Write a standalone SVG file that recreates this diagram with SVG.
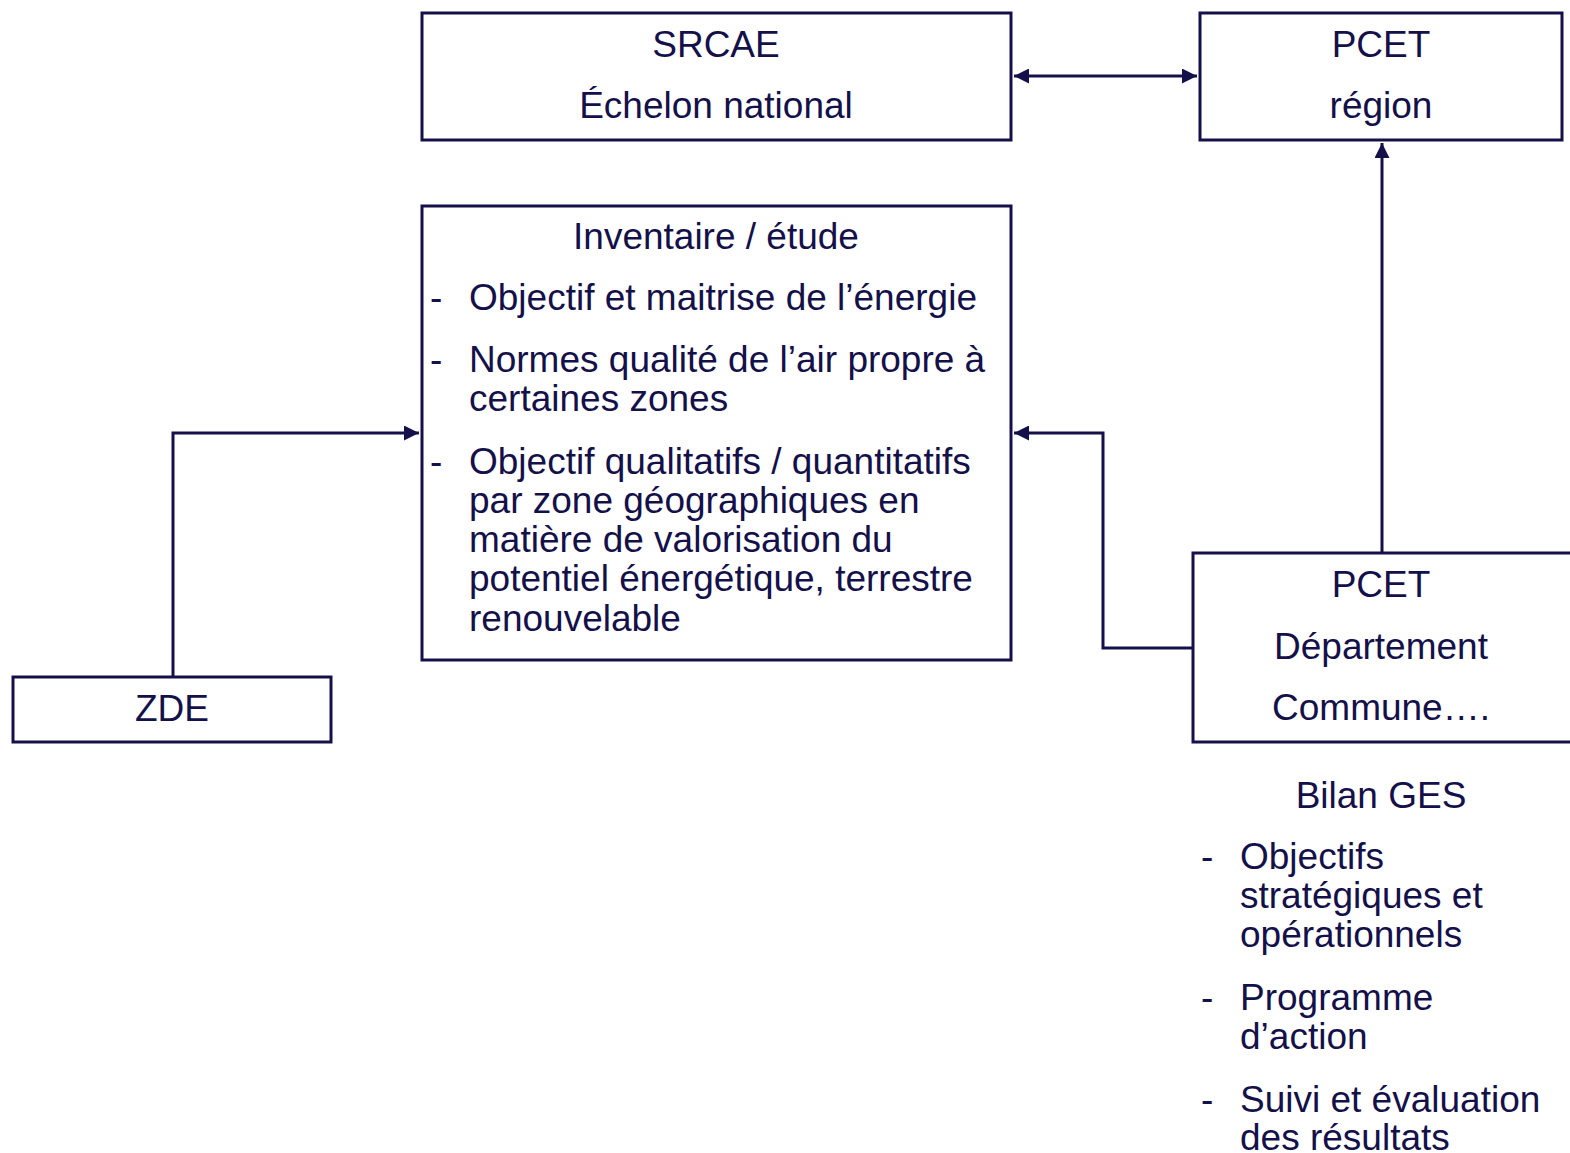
<svg xmlns="http://www.w3.org/2000/svg" width="1570" height="1153" viewBox="0 0 1570 1153">
<style>
.box{fill:#fff;stroke:#14104a;stroke-width:3}
.t{font-family:"Liberation Sans",Arial,sans-serif;font-size:37px;fill:#14104a}
.c{text-anchor:middle}
.ln{fill:none;stroke:#14104a;stroke-width:3}
</style>
<defs>
<marker id="ah" viewBox="0 0 10 10" refX="10" refY="5" markerWidth="5" markerHeight="5" orient="auto-start-reverse" markerUnits="strokeWidth">
<path d="M0,0 L10,5 L0,10 z" fill="#14104a"/>
</marker>
</defs>
<rect width="1570" height="1153" fill="#fff"/>
<g id="connectors">
<line class="ln" x1="1014" y1="76" x2="1197" y2="76" marker-start="url(#ah)" marker-end="url(#ah)"/>
<line class="ln" x1="1382" y1="553" x2="1382" y2="143" marker-end="url(#ah)"/>
<polyline class="ln" points="1193,648 1103,648 1103,433 1014,433" marker-end="url(#ah)"/>
<polyline class="ln" points="173,677 173,433 419,433" marker-end="url(#ah)"/>
</g>
<g id="srcae">
<rect class="box" x="422" y="13" width="589" height="127"/>
<text class="t c" x="716" y="57">SRCAE</text>
<text class="t c" x="716" y="118">Échelon national</text>
</g>
<g id="pcet-region">
<rect class="box" x="1200" y="13" width="362" height="127"/>
<text class="t c" x="1381" y="57">PCET</text>
<text class="t c" x="1381" y="118">région</text>
</g>
<g id="inventaire">
<rect class="box" x="422" y="206" width="589" height="454"/>
<text class="t c" x="716" y="249">Inventaire / étude</text>
<text class="t" x="430" y="310">-</text>
<text class="t" x="469" y="310">Objectif et maitrise de l’énergie</text>
<text class="t" x="430" y="372">-</text>
<text class="t" x="469" y="372">Normes qualité de l’air propre à</text>
<text class="t" x="469" y="411">certaines zones</text>
<text class="t" x="430" y="474">-</text>
<text class="t" x="469" y="474">Objectif qualitatifs / quantitatifs</text>
<text class="t" x="469" y="513">par zone géographiques en</text>
<text class="t" x="469" y="552">matière de valorisation du</text>
<text class="t" x="469" y="591">potentiel énergétique, terrestre</text>
<text class="t" x="469" y="631">renouvelable</text>
</g>
<g id="zde">
<rect class="box" x="13" y="677" width="318" height="65"/>
<text class="t c" x="172" y="721">ZDE</text>
</g>
<g id="pcet-departement">
<rect class="box" x="1193" y="553" width="380" height="189"/>
<text class="t c" x="1381" y="597">PCET</text>
<text class="t c" x="1381" y="659">Département</text>
<text class="t c" x="1381" y="720">Commune….</text>
</g>
<g id="bilan-ges">
<text class="t c" x="1381" y="808">Bilan GES</text>
<text class="t" x="1201" y="869">-</text>
<text class="t" x="1240" y="869">Objectifs</text>
<text class="t" x="1240" y="908">stratégiques et</text>
<text class="t" x="1240" y="947">opérationnels</text>
<text class="t" x="1201" y="1010">-</text>
<text class="t" x="1240" y="1010">Programme</text>
<text class="t" x="1240" y="1049">d’action</text>
<text class="t" x="1201" y="1112">-</text>
<text class="t" x="1240" y="1112">Suivi et évaluation</text>
<text class="t" x="1240" y="1150">des résultats</text>
</g>
</svg>
